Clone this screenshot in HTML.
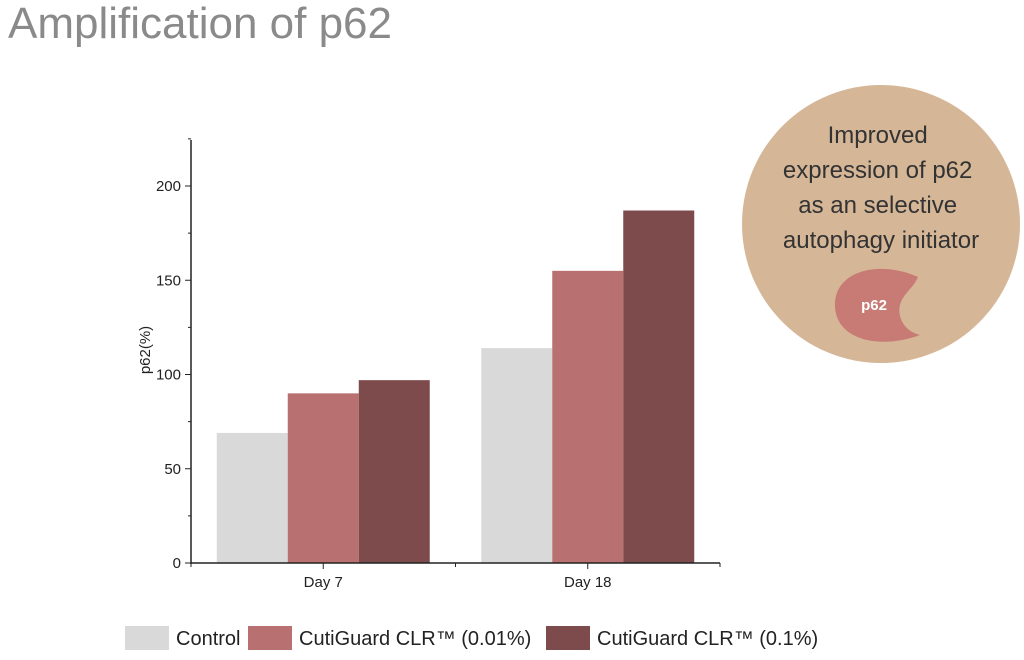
<!DOCTYPE html>
<html><head><meta charset="utf-8">
<style>
body{margin:0;width:1024px;height:655px;background:#fff;overflow:hidden;font-family:"Liberation Sans",sans-serif;}
</style></head>
<body>
<svg width="1024" height="655" xmlns="http://www.w3.org/2000/svg">
<text x="8" y="38" font-size="44" fill="#8a8a8a" font-family="Liberation Sans, sans-serif">Amplification of p62</text>
<g id="chart"></g>
<g>
<circle cx="881" cy="224" r="139" fill="#d5b697"/>
<text text-anchor="middle" font-size="24" fill="#333" font-family="Liberation Sans, sans-serif">
<tspan x="881" y="143">Improved</tspan>
<tspan x="881" y="178">expression of p62</tspan>
<tspan x="881" y="213">as an selective</tspan>
<tspan x="881" y="248">autophagy initiator</tspan>
</text>
<path d="M 918 277 C 880 260 835 270 835 305 C 835 340 880 350 920 335 C 900 330 895 310 903 298 C 908 290 915 285 918 277 Z" fill="#c87a75"/>
<text x="874" y="310" text-anchor="middle" font-size="15" font-weight="bold" fill="#fff">p62</text>
</g>
</svg>
<script>
const categories=["Day 7","Day 18"];
const seriesNames=["Control","CutiGuard CLR™ (0.01%)","CutiGuard CLR™ (0.1%)"];
const controlVals=[69,114];
const low=[90,155];
const high=[97,187];
const yTicks=[0,50,100,150,200];
const colors=["#d9d9d9","#b87170","#7d4b4c"];
const NS="http://www.w3.org/2000/svg";
const g=document.getElementById('chart');
const x0=191,x1=720,yBase=563,yTop=140,pxPer=(563-186)/200;
const y=v=>yBase-v*pxPer;
const groupW=(x1-x0)/categories.length;
const barW=71;
function mk(t,a,parent){const e=document.createElementNS(NS,t);for(const k in a)e.setAttribute(k,a[k]);(parent||g).appendChild(e);return e;}
const series=[controlVals,low,high];
series.forEach((vals,si)=>{vals.forEach((v,ci)=>{
 const cx=x0+groupW*(ci+0.5);
 const r=mk('rect',{x:cx-1.5*barW+si*barW,y:y(v),width:barW,height:y(0)-y(v),fill:colors[si]});
 
 
});});
mk('line',{x1:x0,y1:yTop,x2:x0,y2:yBase+1,stroke:'#222','stroke-width':1.5});
mk('line',{x1:x0,y1:yBase,x2:x1,y2:yBase,stroke:'#222','stroke-width':1.5});
for(let v=0;v<=225;v+=25){const major=v%50===0;mk('line',{x1:x0-(major?6:3),y1:y(v),x2:x0,y2:y(v),stroke:'#222','stroke-width':1});}
yTicks.forEach(v=>{const t=mk('text',{x:x0-10,y:y(v)+5,'text-anchor':'end','font-size':15,fill:'#222'});t.textContent=v;
 });
for(let i=0;i<=categories.length*2;i++){const xx=x0+groupW/2*i;mk('line',{x1:xx,y1:yBase,x2:xx,y2:yBase+(i%2?6:4),stroke:'#222','stroke-width':1});}
categories.forEach((c,i)=>{const t=mk('text',{x:x0+groupW*(i+0.5),y:yBase+24,'text-anchor':'middle','font-size':15,fill:'#222'});t.textContent=c;
 });
const yt=mk('text',{x:0,y:0,transform:'translate(150,350) rotate(-90)','text-anchor':'middle','font-size':15,fill:'#222'});yt.textContent='p62(%)';

const legX=[125,248,546];
seriesNames.forEach((n,i)=>{
 const lg=mk('g',{});
 
 mk('rect',{x:legX[i],y:626,width:44,height:24,fill:colors[i]},lg);
 const t=mk('text',{x:legX[i]+51,y:645,'font-size':20,fill:'#222'},lg);t.textContent=n;
});
</script>
</body></html>
